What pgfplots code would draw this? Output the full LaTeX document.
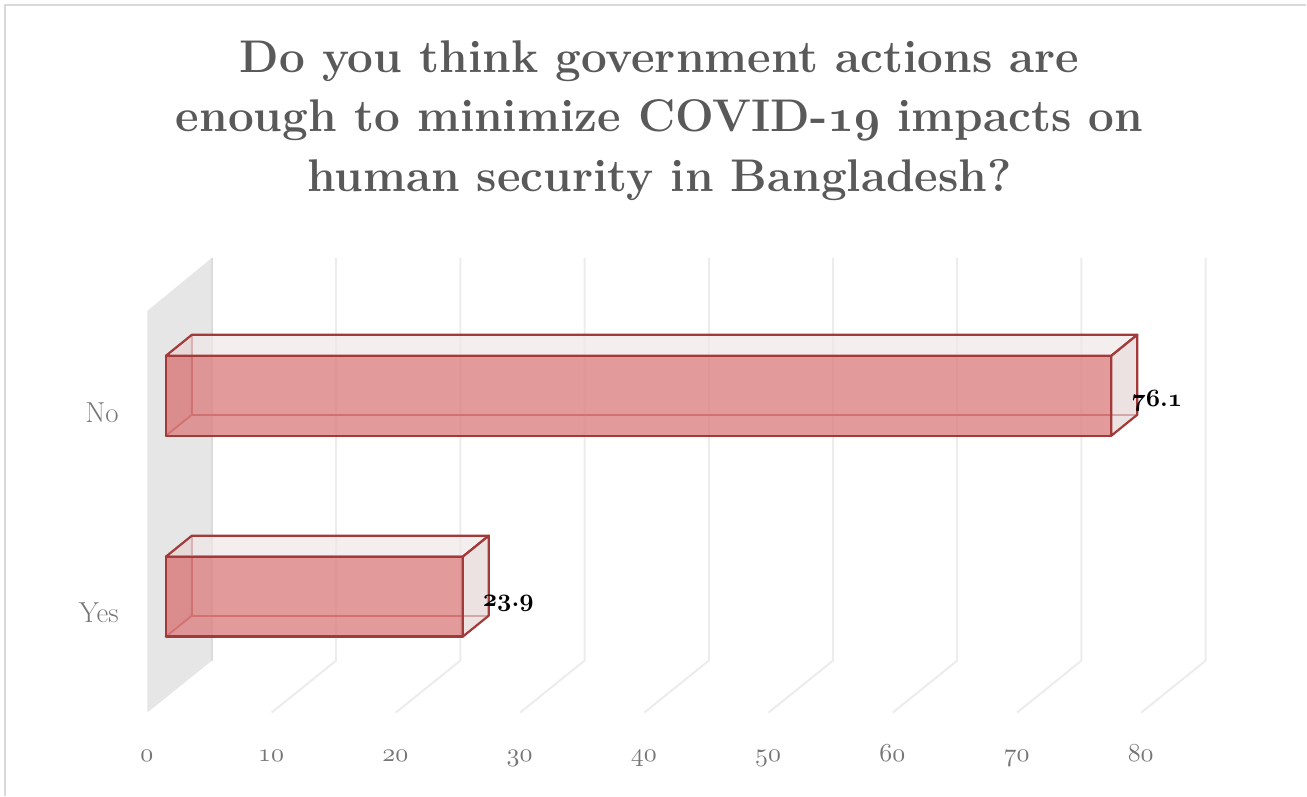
\documentclass[border=0pt]{standalone}
\usepackage{pgfplots}
\pgfplotsset{compat=1.18}
\definecolor{titlegray}{RGB}{89,89,89}
\definecolor{tickgray}{RGB}{118,118,118}
\definecolor{wallgray}{RGB}{230,230,230}
\definecolor{gridgray}{RGB}{236,236,236}
\definecolor{bordergray}{RGB}{217,217,217}
\definecolor{barEdge}{RGB}{163,58,58}
\definecolor{barFront}{RGB}{220,129,129}
\definecolor{barTop}{RGB}{239,231,231}
\definecolor{barSide}{RGB}{229,214,214}
\definecolor{barLeft}{RGB}{200,120,120}
\DeclareFontFamily{OML}{osf}{\skewchar\font127 }
\DeclareFontShape{OML}{osf}{m}{it}{<->cmmi10}{}
\DeclareFontShape{OML}{osf}{b}{it}{<->cmmib10}{}
\newcommand\osm[1]{{\fontencoding{OML}\fontfamily{osf}\fontseries{m}\fontshape{it}\selectfont #1}}
\newcommand\osb[1]{{\fontencoding{OML}\fontfamily{osf}\fontseries{b}\fontshape{it}\selectfont #1}}
\begin{document}
\begin{tikzpicture}
\begin{axis}[
  x=12.43bp, y=1bp,
  xmin=0, xmax=80, ymin=83, ymax=538,
  clip=false,
  axis line style={draw=none},
  major tick length=0pt,
  xtick={0,10,...,80},
  xticklabels={\osm{0},\osm{10},\osm{20},\osm{30},\osm{40},\osm{50},\osm{60},\osm{70},\osm{80}},
  xticklabel style={anchor=base, inner sep=0pt, yshift=-49bp, xshift=-19bp, text=tickgray, font=\fontsize{26}{26}\selectfont},
  ytick={173,373},
  yticklabels={Yes,No},
  yticklabel style={anchor=base east, inner sep=0pt, xshift=-47bp, text=tickgray, font=\fontsize{29}{29}\selectfont},
]
% picture extent and chart border
\path (axis cs:-13.355,0) rectangle (axis cs:91.795,796);
\draw[bordergray, line width=1.5bp] (axis cs:-12.95,0) -- (axis cs:-12.95,791) -- (axis cs:91.795,791);
% side wall
\addplot[fill=wallgray, draw=none] coordinates {(-1.49,83) (3.70,135) (3.70,538) (-1.49,485) (-1.49,83)};
\addplot[draw=black!14, line width=1.5bp] coordinates {(3.70,135) (3.70,538)};
% gridlines (floor + back wall)
\addplot[gridgray, line width=2bp] coordinates {(8.51,83) (13.70,135) (13.70,538)};
\addplot[gridgray, line width=2bp] coordinates {(18.51,83) (23.70,135) (23.70,538)};
\addplot[gridgray, line width=2bp] coordinates {(28.51,83) (33.70,135) (33.70,538)};
\addplot[gridgray, line width=2bp] coordinates {(38.51,83) (43.70,135) (43.70,538)};
\addplot[gridgray, line width=2bp] coordinates {(48.51,83) (53.70,135) (53.70,538)};
\addplot[gridgray, line width=2bp] coordinates {(58.51,83) (63.70,135) (63.70,538)};
\addplot[gridgray, line width=2bp] coordinates {(68.51,83) (73.70,135) (73.70,538)};
\addplot[gridgray, line width=2bp] coordinates {(78.51,83) (83.70,135) (83.70,538)};
% ---- bar "No" = 76.1 ----
\addplot[fill=barLeft, fill opacity=0.4, draw=none] coordinates {(0,360) (0,440) (2.09,461) (2.09,381) (0,360)};
\addplot[barEdge, line width=1.8bp, line join=round] coordinates {(0,360) (2.09,381) (2.09,461)};
\addplot[barEdge, line width=1.8bp] coordinates {(2.09,381) (78.19,381)};
\addplot[fill=barFront, fill opacity=0.8, draw=barEdge, line width=2.4bp, line join=round, line cap=round] coordinates {(0,360) (76.1,360) (76.1,440) (0,440) (0,360)};
\addplot[fill=barTop, fill opacity=0.7, draw=barEdge, line width=2.2bp, line join=round, line cap=round] coordinates {(0,440) (76.1,440) (78.19,461) (2.09,461) (0,440)};
\addplot[fill=barSide, fill opacity=0.7, draw=barEdge, line width=2.2bp, line join=round, line cap=round] coordinates {(76.1,360) (78.19,381) (78.19,461) (76.1,440) (76.1,360)};
% ---- bar "Yes" = 23.9 ----
\addplot[fill=barLeft, fill opacity=0.4, draw=none] coordinates {(0,159) (0,239) (2.09,260) (2.09,180) (0,159)};
\addplot[barEdge, line width=1.8bp, line join=round] coordinates {(0,159) (2.09,180) (2.09,260)};
\addplot[barEdge, line width=1.8bp] coordinates {(2.09,180) (25.99,180)};
\addplot[fill=barFront, fill opacity=0.8, draw=barEdge, line width=2.4bp, line join=round, line cap=round] coordinates {(0,159) (23.9,159) (23.9,239) (0,239) (0,159)};
\addplot[fill=barTop, fill opacity=0.7, draw=barEdge, line width=2.2bp, line join=round, line cap=round] coordinates {(0,239) (23.9,239) (25.99,260) (2.09,260) (0,239)};
\addplot[fill=barSide, fill opacity=0.7, draw=barEdge, line width=2.2bp, line join=round, line cap=round] coordinates {(23.9,159) (25.99,180) (25.99,260) (23.9,239) (23.9,159)};
% data labels
\node[anchor=base west, inner sep=0pt, font=\bfseries\fontsize{25}{25}\selectfont] at (axis cs:77.71,389) {\osb{76}.\osb{1}};
\node[anchor=base west, inner sep=0pt, font=\bfseries\fontsize{25}{25}\selectfont] at (axis cs:25.5,189) {\osb{23}.\osb{9}};
% title
\node[anchor=base, inner sep=0pt, text=titlegray, font=\bfseries\fontsize{46}{46}\selectfont] at (axis cs:39.74,723) {Do you think government actions are};
\node[anchor=base, inner sep=0pt, text=titlegray, font=\bfseries\fontsize{46}{46}\selectfont] at (axis cs:39.74,664) {enough to minimize COVID-\osb{19} impacts on};
\node[anchor=base, inner sep=0pt, text=titlegray, font=\bfseries\fontsize{46}{46}\selectfont] at (axis cs:39.74,604) {human security in Bangladesh?};
\end{axis}
\end{tikzpicture}
\end{document}
